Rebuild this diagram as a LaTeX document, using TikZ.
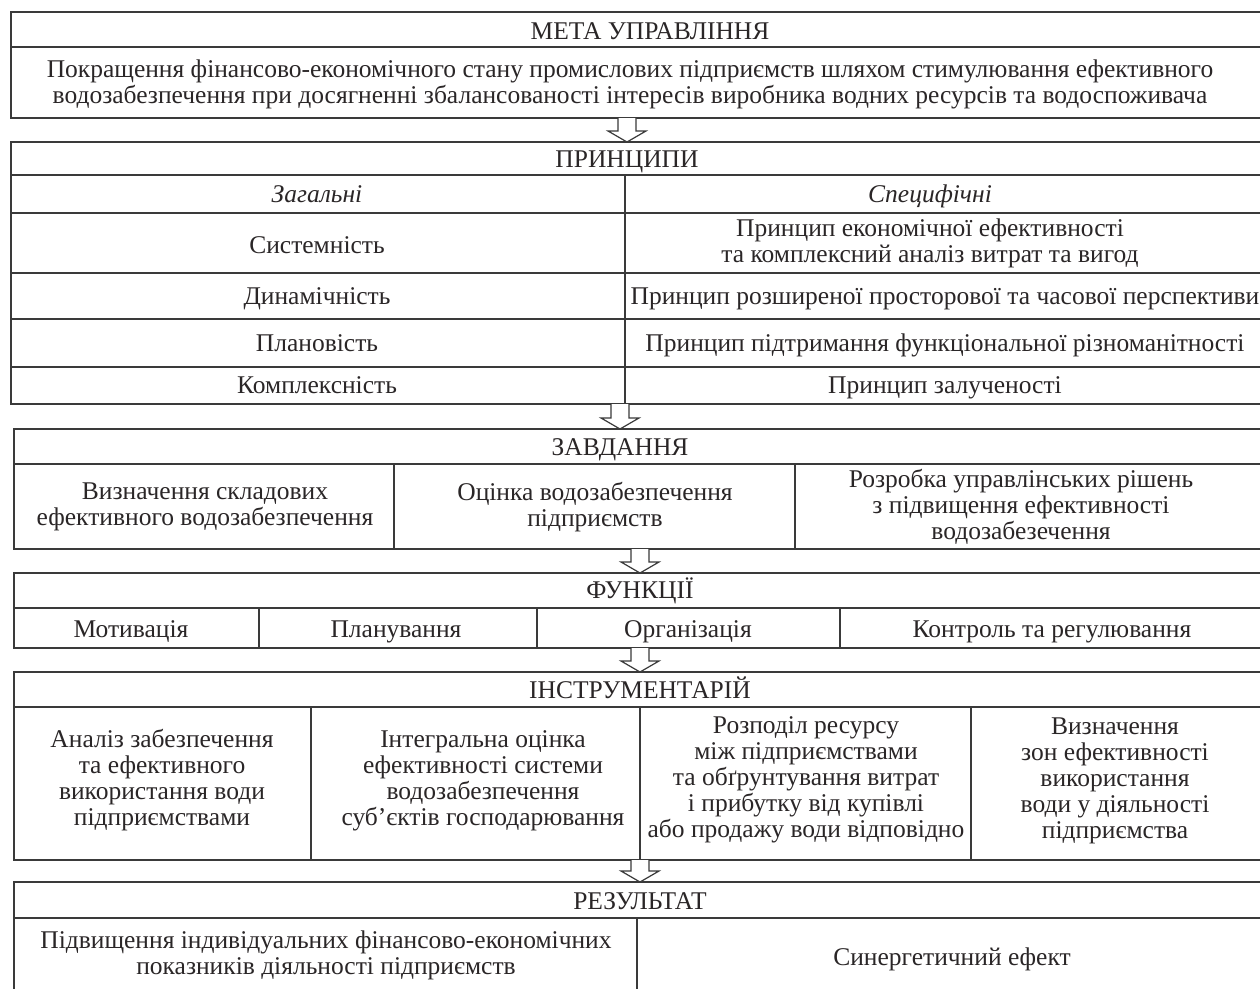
\documentclass[tikz,border=0pt]{standalone}
\usepackage{fontspec}
\setmainfont{Liberation Serif}
\usetikzlibrary{calc}
\definecolor{ink}{HTML}{2A2627}
\definecolor{rule}{HTML}{3A3A3A}
\begin{document}
\begin{tikzpicture}[x=1pt,y=-1pt,
  frame/.style={draw=rule,line width=1.3pt},
  txt/.style={text=ink,align=center,inner sep=0pt,font=\fontsize{25.5}{26}\selectfont},
  one/.style={txt,text height=19pt,text depth=2pt},
  ttl/.style={one},
  itl/.style={one,font=\fontsize{25.5}{26}\selectfont\itshape},
  blockarrow/.style={draw=rule,line width=1.2pt,fill=white,line join=miter}]
\useasboundingbox (0,0) rectangle (1260,988);
\clip (0,0) rectangle (1260,988);
\fill[white] (0,0) rectangle (1260,988);

% ---------- Block 1: goal
\draw[frame] (11,12) rectangle (1270,118);
\draw[frame] (11,47) -- (1270,47);
\node[ttl] (goalT) at (650,31) {МЕТА УПРАВЛІННЯ};
\node[txt] (goalB) at (630,84) {Покращення фінансово-економічного стану промислових підприємств шляхом стимулювання ефективного\\водозабезпечення при досягненні збалансованості інтересів виробника водних ресурсів та водоспоживача};

% ---------- Block 2: principles
\draw[frame] (11,142) rectangle (1270,404);
\draw[frame] (11,175) -- (1270,175);
\foreach \yy in {213,273,319,367} \draw[frame] (11,\yy) -- (1270,\yy);
\draw[frame] (625,175) -- (625,404);
\node[ttl] (prT) at (627,159) {ПРИНЦИПИ};
\node[itl] (gen) at (317,194) {Загальні};
\node[itl] (spec) at (930,194) {Специфічні};
\node[one] (g1) at (317,245) {Системність};
\node[one] (g2) at (317,296) {Динамічність};
\node[one] (g3) at (317,343) {Плановість};
\node[one] (g4) at (317,385) {Комплексність};
\node[txt] (s1) at (930,243) {Принцип економічної ефективності\\та комплексний аналіз витрат та вигод};
\node[one] (s2) at (945,296) {Принцип розширеної просторової та часової перспективи};
\node[one] (s3) at (945,343) {Принцип підтримання функціональної різноманітності};
\node[one] (s4) at (945,385) {Принцип залученості};

% ---------- Block 3: tasks
\draw[frame] (14,429) rectangle (1270,549);
\draw[frame] (14,464) -- (1270,464);
\draw[frame] (394,464) -- (394,549);
\draw[frame] (795,464) -- (795,549);
\node[ttl] (tkT) at (620,447) {ЗАВДАННЯ};
\node[txt] (t1) at (205,507) {Визначення складових\\ефективного водозабезпечення};
\node[txt] (t2) at (595,507) {Оцінка водозабезпечення\\підприємств};
\node[txt] (t3) at (1021,507) {Розробка управлінських рішень\\з підвищення ефективності\\водозабезечення};

% ---------- Block 4: functions
\draw[frame] (14,573) rectangle (1270,648);
\draw[frame] (14,608) -- (1270,608);
\foreach \xx in {259,537,840} \draw[frame] (\xx,608) -- (\xx,648);
\node[ttl] (fnT) at (640,590) {ФУНКЦІЇ};
\node[one] (f1) at (131,629) {Мотивація};
\node[one] (f2) at (396,629) {Планування};
\node[one] (f3) at (688,629) {Організація};
\node[one] (f4) at (1052,629) {Контроль та регулювання};

% ---------- Block 5: tools
\draw[frame] (14,672) rectangle (1270,860);
\draw[frame] (14,707) -- (1270,707);
\foreach \xx in {311,640,971} \draw[frame] (\xx,707) -- (\xx,860);
\node[ttl] (inT) at (640,690) {ІНСТРУМЕНТАРІЙ};
\node[txt] (i1) at (162,780) {Аналіз забезпечення\\та ефективного\\використання води\\підприємствами};
\node[txt] (i2) at (483,781) {Інтегральна оцінка\\ефективності системи\\водозабезпечення\\суб’єктів господарювання};
\node[txt] (i3) at (806,780) {Розподіл ресурсу\\між підприємствами\\та обґрунтування витрат\\і прибутку від купівлі\\або продажу води відповідно};
\node[txt] (i4) at (1115,781) {Визначення\\зон ефективності\\використання\\води у діяльності\\підприємства};

% ---------- Block 6: result
\draw[frame] (14,882) rectangle (1270,1000);
\draw[frame] (14,918) -- (1270,918);
\draw[frame] (637,918) -- (637,1000);
\node[ttl] (reT) at (640,901) {РЕЗУЛЬТАТ};
\node[txt] (r1) at (326,955) {Підвищення індивідуальних фінансово-економічних\\показників діяльності підприємств};
\node[one] (r2) at (952,957) {Синергетичний ефект};

% ---------- arrows between blocks
\coordinate (a1) at (627,118);
\coordinate (a2) at (620,404);
\coordinate (a3) at (640,549);
\coordinate (a4) at (640,648);
\coordinate (a5) at (640,860);
\foreach \c/\L in {a1/24,a2/25,a3/24,a4/24,a5/22}{
  \draw[blockarrow] ($(\c)+(-9,0)$) -- ($(\c)+(-9,\L-11)$) -- ($(\c)+(-19,\L-11)$)
     -- ($(\c)+(0,\L)$) -- ($(\c)+(19,\L-11)$) -- ($(\c)+(9,\L-11)$) -- ($(\c)+(9,0)$);
}
\end{tikzpicture}
\end{document}
